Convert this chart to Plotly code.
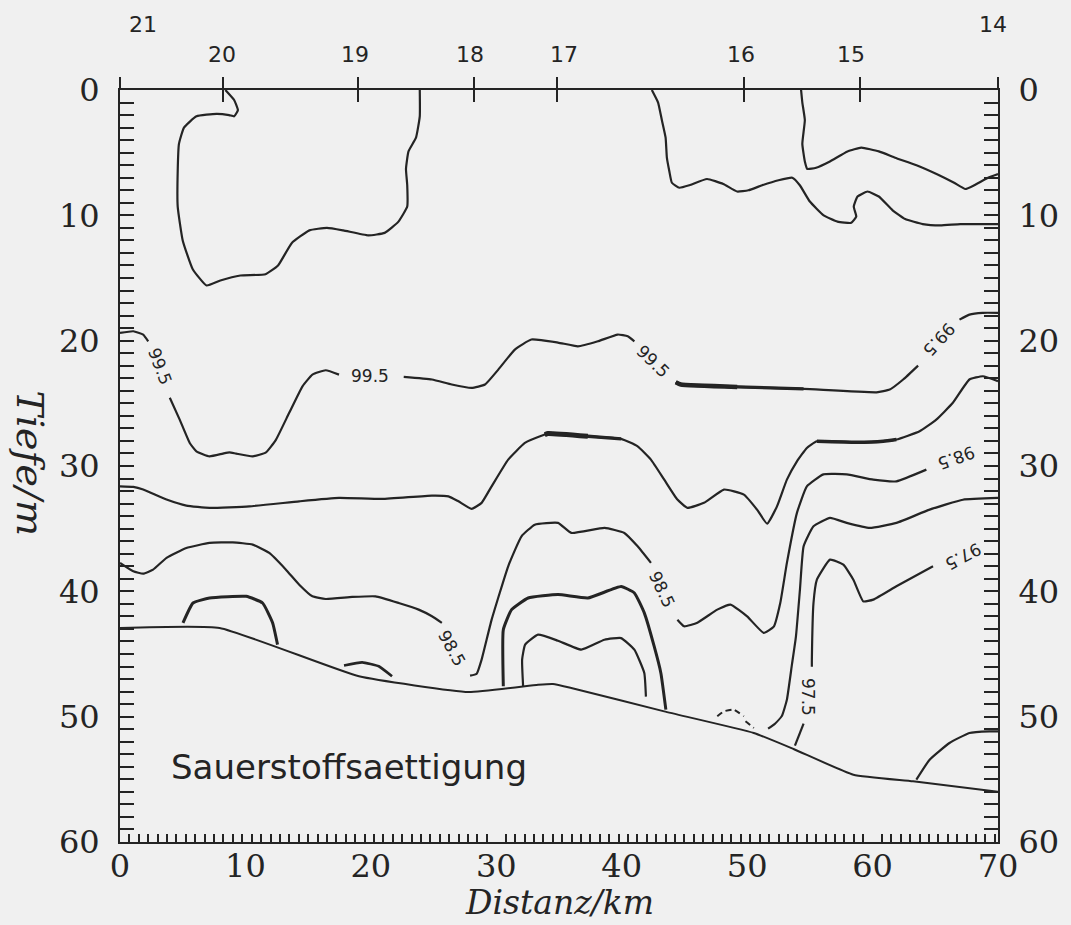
import plotly.graph_objects as go

# ---------------- data (distance in km, depth in m) ----------------
station_names = ["21", "20", "19", "18", "17", "16", "15", "14"]
station_km = [0, 8.25, 18.94, 28.25, 34.87, 49.76, 59.03, 70]
station_label_km = [1.8, 8.1, 18.7, 27.9, 35.4, 49.5, 58.3, 69.6]

seafloor_km = [0, 7.94, 19.05, 27.78, 33.33, 34.52, 35.98, 43.39, 50.53, 53.70, 58.47, 63.23, 70]
seafloor_m = [42.92, 42.92, 46.78, 48.03, 47.45, 47.39, 47.71, 49.58, 51.30, 52.58, 54.63, 55.16, 55.99]

loop_km = [8.4, 9.1, 9.4, 9.1, 8.7, 7.7, 6.1, 5.1, 4.7, 4.6, 4.6, 5.0, 5.8, 6.9, 8.0, 9.6,
           11.6, 12.6, 13.7, 15.1, 16.5, 17.8, 19.8, 21.1, 22.2, 22.9, 22.9, 22.8, 23.0, 23.6, 23.9, 23.9]
loop_m = [0, 0.8, 1.6, 2.1, 2.0, 1.9, 2.1, 3.0, 4.3, 6.5, 9.3, 12.0, 14.3, 15.6, 15.2, 14.8,
          14.7, 14.0, 12.2, 11.2, 11.0, 11.2, 11.6, 11.4, 10.5, 9.3, 7.6, 6.3, 4.9, 3.8, 2.1, 0]

lineA_km = [42.4, 42.9, 43.2, 43.5, 43.6, 43.8, 44.0, 44.6, 45.4, 46.8, 48.1, 49.2, 50.1, 51.2, 52.5, 53.6,
            54.2, 55.0, 56.1, 57.2, 58.3, 58.7, 58.5, 58.8, 59.6, 60.5, 61.6, 62.6, 64.0, 65.4, 67.0, 70]
lineA_m = [0, 1.0, 2.4, 3.8, 5.4, 6.5, 7.4, 7.8, 7.6, 7.1, 7.5, 8.1, 8.0, 7.6, 7.2, 7.0,
           7.6, 8.9, 10.0, 10.5, 10.6, 10.1, 9.3, 8.5, 8.1, 8.5, 9.6, 10.3, 10.7, 10.8, 10.7, 10.7]

lineB_km = [54.3, 54.4, 54.6, 54.4, 54.6, 54.8, 55.5, 56.6, 58.0, 59.1, 60.5, 61.8, 63.5, 65.1, 66.5, 67.4, 68.1, 69.2, 70]
lineB_m = [0, 1.0, 2.4, 4.3, 5.7, 6.3, 6.2, 5.7, 4.9, 4.6, 4.9, 5.4, 6.0, 6.7, 7.4, 7.9, 7.6, 7.0, 6.7]

c995_km = [0, 1.06, 1.85, 2.25, None,
           3.97, 4.76, 5.56, 6.09, 7.14, 8.20, 8.73, 9.26, 10.58, 11.64, 12.44, 13.49, 14.55, 15.34, 16.40, 17.46, None,
           22.62, 24.87, 26.45, 28.03, 29.10, 30.16, 31.48, 32.80, 34.92, 36.51, 38.10, 39.68, 40.48, 41.01, None,
           44.31, 44.71, 49.21, 54.50, 60.32, 61.37, 62.44, 63.63, None,
           66.93, 67.72, 68.79, 70]
c995_m = [19.38, 19.25, 19.51, 20.05, None,
          24.56, 26.30, 28.16, 28.83, 29.23, 29.01, 28.91, 29.01, 29.23, 28.91, 27.89, 25.76, 23.64, 22.71, 22.36, 22.71, None,
          22.89, 23.10, 23.50, 23.77, 23.50, 22.31, 20.71, 19.91, 20.15, 20.45, 20.05, 19.51, 19.65, 20.05, None,
          23.32, 23.50, 23.69, 23.85, 24.12, 23.90, 23.10, 21.99, None,
          18.32, 17.92, 17.78, 17.78]

cC_km = [0, 1.06, 1.85, 3.71, 5.29, 7.14, 10.32, 14.29, 17.46, 20.90, 24.87, 26.19, 26.98, 28.04, 28.83, 29.63,
         30.95, 32.28, 33.87, 34.13, 37.30, 39.95, 41.27, 42.33, 43.39, 44.44, 45.24, 46.56, 48.15, 49.74, 50.79,
         51.59, 52.38, 53.17, 53.97, 54.76, 55.56, 58.73, 60.85, 61.90, 63.75, 65.08, 66.40, 67.72, 68.79, 70]
cC_m = [31.62, 31.67, 31.88, 32.68, 33.16, 33.34, 33.22, 32.82, 32.55, 32.63, 32.36, 32.42, 32.82, 33.42, 32.94, 31.62,
        29.49, 28.16, 27.49, 27.41, 27.63, 27.84, 28.43, 29.49, 31.09, 32.68, 33.34, 32.94, 31.88, 32.28, 33.48,
        34.60, 33.22, 31.09, 29.63, 28.56, 28.03, 28.11, 28.03, 27.89, 27.23, 26.30, 24.96, 23.10, 22.84, 23.24]

cD_km = [0, 1.06, 1.85, 2.64, 3.71, 5.29, 7.14, 8.99, 10.58, 11.90, 13.23, 14.29, 15.34, 16.40, 18.52, 20.37,
         22.22, 23.81, 24.87, 25.66, None,
         27.91, 28.44, 28.83, 29.63, 30.95, 32.01, 33.07, 34.92, 35.98, 38.63, 40.21, 41.27, 42.33, None,
         44.44, 44.98, 46.03, 47.62, 48.67, 50.00, 51.32, 52.12, 52.64, 53.17, 53.97, 54.76, 56.08, 57.94,
         60.06, 61.90, 64.29]
cD_m = [37.73, 38.40, 38.59, 38.27, 37.33, 36.54, 36.14, 36.09, 36.27, 36.94, 38.27, 39.47, 40.40, 40.61, 40.45, 40.40,
        40.93, 41.46, 41.99, 42.52, None,
        46.73, 46.57, 45.45, 42.26, 38.00, 35.61, 34.68, 34.54, 35.34, 34.94, 35.34, 36.41, 37.73, None,
        42.26, 42.79, 42.50, 41.46, 41.06, 42.00, 43.32, 42.82, 40.93, 37.73, 33.74, 31.62, 30.67, 30.67,
        31.09, 31.22, 30.29]

cF_km = [70, 67.20, 64.55, 61.90, 59.78, 57.94, 56.61, 55.29, 54.50, 54.21, 53.89, 53.57, 53.17, 52.78, 52.22, 51.67]
cF_m = [32.55, 32.69, 33.48, 34.54, 34.94, 34.54, 34.14, 34.81, 36.41, 39.86, 43.61, 45.85, 48.64, 49.92, 50.56, 50.96]

cG_km = [64.82, 61.90, 60.06, 59.26, 58.47, 57.67, 56.61, 55.56, 55.29, 55.16, 55.16, None, 54.50, 53.81]
cG_m = [38.00, 39.60, 40.66, 40.80, 39.07, 37.87, 37.47, 39.07, 40.93, 45.45, 46.01, None, 50.56, 52.31]

cH_km = [30.56, 30.56, 31.22, 32.54, 34.92, 37.30, 39.95, 41.01, 41.80, 42.59, 43.12, 43.52]
cH_m = [47.58, 43.06, 41.46, 40.53, 40.26, 40.53, 39.62, 40.13, 41.72, 44.40, 46.51, 49.44]

cI_km = [32.14, 32.06, 32.30, 33.33, 34.92, 36.77, 38.62, 39.95, 41.01, 41.80, 41.93]
cI_m = [47.61, 45.45, 44.25, 43.46, 43.94, 44.65, 43.86, 43.73, 44.65, 46.51, 48.40]

cJ_km = [5.02, 5.82, 7.14, 10.06, 11.37, 12.17, 12.56]
cJ_m = [42.52, 40.93, 40.53, 40.40, 40.93, 42.52, 44.25]

cK_km = [17.86, 19.31, 20.63, 21.69]
cK_m = [45.91, 45.67, 45.98, 46.78]

cL_km = [47.62, 48.15, 48.94, 49.74, None, 49.87, 50.53]
cL_m = [49.97, 49.57, 49.44, 49.97, None, 50.37, 50.90]

cM_km = [63.49, 64.55, 66.13, 67.72, 69.31, 70]
cM_m = [55.03, 53.43, 52.10, 51.30, 51.17, 51.17]

label_text = ["99.5", "99.5", "99.5", "99.5", "98.5", "98.5", "98.5", "97.5", "97.5"]
label_km = [3.17, 19.97, 42.46, 65.34, 26.45, 43.25, 66.7, 67.26, 54.9]
label_m = [22.04, 22.84, 21.64, 19.91, 44.52, 39.87, 29.35, 37.23, 48.4]
label_angle = [69, 0, 44, 132, 61, 65, 160, 152, 90]

# ---------------- figure ----------------
INK = "#242424"
BG = "#f0f0f0"
fig = go.Figure()


def add_line(xs, ys, width=2.0, dash=None):
    fig.add_trace(go.Scatter(x=xs, y=ys, mode="lines", connectgaps=False,
                             line=dict(color=INK, width=width, dash=dash, shape="spline", smoothing=0.4),
                             hoverinfo="skip", showlegend=False))


def segment(xs, ys, lo, hi):
    pts = [(a, b) for a, b in zip(xs, ys) if a is not None and lo <= a <= hi]
    return [p[0] for p in pts], [p[1] for p in pts]


add_line(seafloor_km, seafloor_m, 2.0)
add_line(loop_km, loop_m, 2.2)
add_line(lineA_km, lineA_m, 2.2)
add_line(lineB_km, lineB_m, 2.2)
add_line(c995_km, c995_m, 2.2)
add_line(cC_km, cC_m, 2.2)
add_line(cD_km, cD_m, 2.2)
add_line(cF_km, cF_m, 2.2)
add_line(cG_km, cG_m, 2.2)
add_line(cH_km, cH_m, 3.0)
add_line(cI_km, cI_m, 2.2)
add_line(cJ_km, cJ_m, 3.0)
add_line(cK_km, cK_m, 2.6)
add_line(cL_km, cL_m, 2.0, dash="6px,4px")
add_line(cM_km, cM_m, 2.2)

# bolder, wedge-like stretches of some isolines
for xs, ys, lo, hi, w in [(c995_km, c995_m, 44.3, 50.0, 4.5), (c995_km, c995_m, 44.3, 55.0, 3.2),
                          (cC_km, cC_m, 33.8, 37.4, 5.0), (cC_km, cC_m, 33.8, 40.0, 3.4),
                          (cC_km, cC_m, 55.5, 62.0, 3.4)]:
    sx, sy = segment(xs, ys, lo, hi)
    add_line(sx, sy, w)

# invisible helpers that activate the extra axes (station ticks, right depth axis)
for ax in ("x2", "x3"):
    fig.add_trace(go.Scatter(x=station_km, y=[0] * len(station_km), xaxis=ax, mode="none",
                             hoverinfo="skip", showlegend=False))
fig.add_trace(go.Scatter(x=seafloor_km, y=seafloor_m, yaxis="y2", mode="none",
                         hoverinfo="skip", showlegend=False))

annotations = []
for name, km in zip(station_names, station_label_km):
    high = name in (station_names[0], station_names[-1])
    annotations.append(dict(x=km, y=1.087 if high else 1.047, xref="x", yref="paper",
                            text=name, showarrow=False, xanchor="center", yanchor="middle",
                            font=dict(family="DejaVu Sans", size=22, color=INK)))
for t, km, m, ang in zip(label_text, label_km, label_m, label_angle):
    annotations.append(dict(x=km, y=m, xref="x", yref="y", text=t, showarrow=False,
                            textangle=ang, xanchor="center", yanchor="middle",
                            font=dict(family="DejaVu Sans", size=17, color=INK)))
annotations.append(dict(x=18.25, y=54.0, xref="x", yref="y", text="Sauerstoffsaettigung",
                        showarrow=False, xanchor="center", yanchor="middle",
                        font=dict(family="DejaVu Sans", size=34, color=INK)))
annotations.append(dict(x=0.5, y=-0.081, xref="paper", yref="paper", text="Distanz/km",
                        showarrow=False, xanchor="center", yanchor="middle",
                        font=dict(family="DejaVu Serif", size=33, color=INK, style="italic")))
annotations.append(dict(x=-0.102, y=0.504, xref="paper", yref="paper", text="Tiefe/m",
                        showarrow=False, textangle=90, xanchor="center", yanchor="middle",
                        font=dict(family="DejaVu Serif", size=38, color=INK, style="italic")))

tickfont = dict(family="DejaVu Serif", size=32, color=INK)
yaxis_common = dict(range=[60, 0], tickmode="linear", tick0=0, dtick=10, ticks="inside", ticklen=14,
                    tickwidth=1.6, tickcolor=INK, tickfont=tickfont, showgrid=False, zeroline=False,
                    ticklabelstandoff=12,
                    minor=dict(ticks="inside", tickmode="linear", tick0=0, dtick=1, ticklen=14,
                               tickwidth=1.6, tickcolor=INK, showgrid=False))
station_axis = dict(overlaying="x", side="top", range=[0, 70], tickmode="array", tickvals=station_km,
                    showticklabels=False, ticklen=12, tickwidth=2, tickcolor=INK,
                    showgrid=False, zeroline=False, showline=False)
inner_station_axis = dict(station_axis, tickvals=station_km[1:-1])

fig.update_layout(
    width=1071, height=925,
    margin=dict(l=120, r=69, t=90, b=83),
    paper_bgcolor=BG, plot_bgcolor=BG,
    showlegend=False,
    xaxis=dict(range=[0, 70], tickmode="linear", tick0=0, dtick=10, ticks="", tickfont=tickfont,
               showline=True, linecolor=INK, linewidth=2, mirror=True, showgrid=False, zeroline=False,
               ticklabelstandoff=-5,
               minor=dict(ticks="inside", tickmode="linear", tick0=0, dtick=0.75, ticklen=8,
                          tickwidth=1.6, tickcolor=INK, showgrid=False)),
    xaxis2=dict(ticks="outside", **station_axis),
    xaxis3=dict(ticks="inside", **inner_station_axis),
    yaxis=dict(showline=True, linecolor=INK, linewidth=2, mirror=True, **yaxis_common),
    yaxis2=dict(overlaying="y", side="right", showline=True, linecolor=INK, linewidth=2, **yaxis_common),
    annotations=annotations,
)

fig.write_html("out.html")
